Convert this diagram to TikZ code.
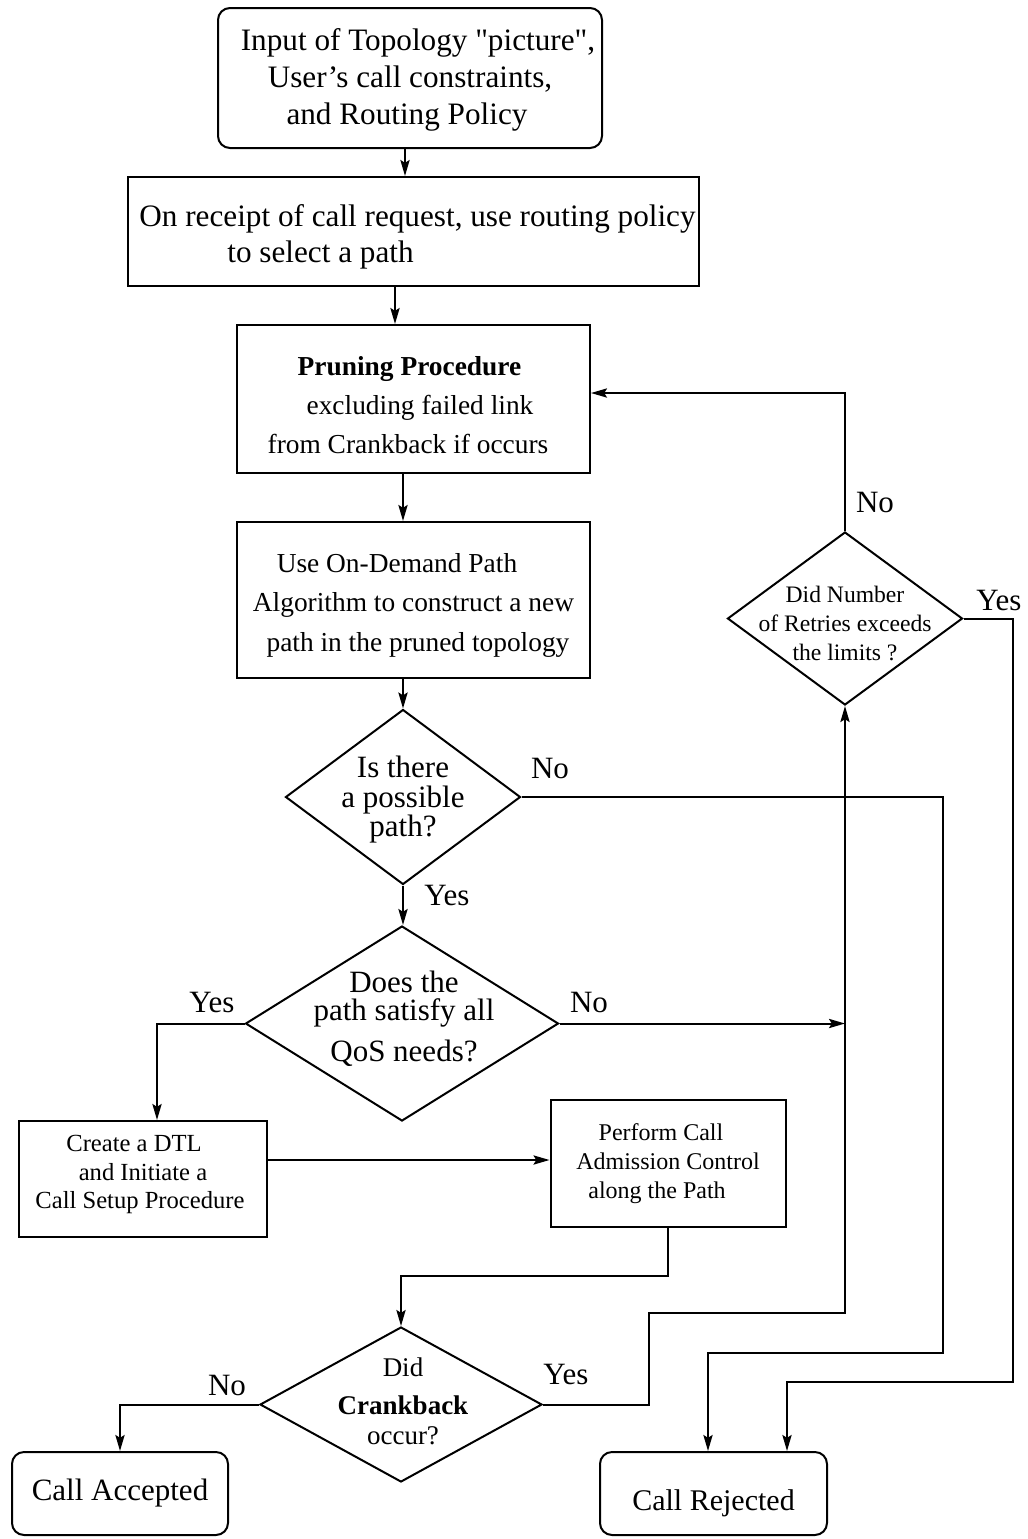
\documentclass[tikz,border=0pt]{standalone}
\usepackage{fontspec}
\setmainfont{Liberation Serif}
\usetikzlibrary{shapes.geometric,arrows.meta}

% a plain typewriter-style double quote, kept out of the TeX quote mapping
\newcommand\straightdq{\XeTeXglyph\XeTeXcharglyph"22\relax}
% raises the top of a first line so the text block sits a little lower
\newcommand\lowerby[1]{\rule{0pt}{#1}}
% deepens a last line so the text block sits a little higher
\newcommand\raiseby[1]{\rule[-#1]{0pt}{#1}}

\begin{document}
\begin{tikzpicture}[x=0.5pt,y=-0.5pt,
  line width=1pt,
  arr/.style={-{Stealth[length=8pt,width=4.6pt,inset=1.4pt]}},
  box/.style={draw, rectangle, inner sep=0pt, align=center},
  rbox/.style={box, rounded corners=6pt},
  decision/.style={draw, diamond, inner sep=0pt},
  qtext/.style={align=center, inner sep=0pt},
  lbl/.style={inner sep=0pt, font=\fontsize{15.5}{18}\selectfont},
]
\useasboundingbox (0,0) rectangle (1028,1539);

% process boxes
\node[rbox, minimum width=192pt, minimum height=70pt,
      font=\fontsize{15.6}{18.5}\selectfont] (input) at (410,78)
  {\lowerby{13pt}\hspace*{8pt}Input of Topology \straightdq picture\straightdq,\\User’s call constraints,\hspace*{9pt}\\and Routing Policy\hspace*{3pt}};

\node[box, align=left, minimum width=285.5pt, minimum height=54.5pt,
      font=\fontsize{15.6}{18}\selectfont] (receipt) at (413.5,231.5)
  {\lowerby{16.8pt}\hspace*{4pt}On receipt of call request, use routing policy\\\hspace*{48pt}to select a path};

\node[box, minimum width=176.5pt, minimum height=74pt,
      font=\fontsize{13.7}{19.5}\selectfont] (prune) at (413.5,399)
  {\lowerby{16pt}\textbf{Pruning Procedure}\hspace*{4pt}\\\hspace*{6.5pt}excluding failed link\\from Crankback if occurs\hspace*{5.5pt}};

\node[box, minimum width=176.5pt, minimum height=78pt,
      font=\fontsize{13.7}{19.75}\selectfont] (use) at (413.5,600)
  {\lowerby{14.5pt}Use On-Demand Path\hspace*{16.5pt}\\Algorithm to construct a new\hspace*{5.5pt}\\\hspace*{4.5pt}path in the pruned topology};

\node[box, minimum width=124pt, minimum height=58pt,
      font=\fontsize{12.3}{14.25}\selectfont] (dtl) at (143,1179)
  {Create a DTL\hspace*{9pt}\\and Initiate a\hspace*{12pt}\\Call Setup Procedure\hspace*{3pt}\raiseby{6.7pt}};

\node[box, minimum width=117.5pt, minimum height=63.5pt,
      font=\fontsize{12}{14.5}\selectfont] (cac) at (668,1163.5)
  {Perform Call\hspace*{7pt}\\Admission Control\hspace*{8pt}\\along the Path\hspace*{11pt}};

\node[rbox, minimum width=108pt, minimum height=41.5pt,
      font=\fontsize{15.5}{18}\selectfont] (accept) at (120,1493.5) {Call Accepted};
\node[rbox, minimum width=113.5pt, minimum height=41.5pt, text height=20pt, text depth=3pt,
      font=\fontsize{15}{18}\selectfont] (reject) at (713.5,1493.5) {Call Rejected};

% decisions
\node[decision, minimum width=117.5pt, minimum height=87.5pt] (possible) at (403,797) {};
\node[qtext, font=\fontsize{15.5}{14.75}\selectfont] (possibleT) at (403,800)
  {Is there\\a possible\\path?};

\node[decision, minimum width=156.5pt, minimum height=97.5pt] (qos) at (402,1023.5) {};
\node[qtext, font=\fontsize{15.5}{14}\selectfont] (qosT) at (404,1019)
  {Does the\\path satisfy all\\[5.5pt]QoS needs?};

\node[decision, minimum width=117.5pt, minimum height=86.5pt] (retry) at (845,618.5) {};
\node[qtext, font=\fontsize{11.8}{14.5}\selectfont] (retryT) at (845,623)
  {Did Number\\of Retries exceeds\\the limits ?};

\node[decision, minimum width=141pt, minimum height=77.5pt] (crank) at (401,1404.5) {};
\node[qtext, font=\fontsize{13.5}{19}\selectfont] (crankT) at (403,1401)
  {Did\\\textbf{Crankback}\\[-4pt]occur?};

% branch labels
\node[lbl] (noPossible) at (550,768) {No};
\node[lbl] (yesPossible) at (447,895) {Yes};
\node[lbl] (yesQos) at (212,1002) {Yes};
\node[lbl] (noQos) at (589,1002) {No};
\node[lbl] (noRetry) at (875,502) {No};
\node[lbl] (yesRetry) at (999,600) {Yes};
\node[lbl] (noCrank) at (227,1385) {No};
\node[lbl] (yesCrank) at (566,1374) {Yes};

% routing points
\coordinate (a1) at (405,0);
\coordinate (a2) at (395,0);
\coordinate (a3) at (157,0);
\coordinate (a4) at (0,1160);
\coordinate (m1) at (401,1276);
\coordinate (k1) at (649,1313);
\coordinate (p1) at (845,393);
\coordinate (n1) at (943,1353);
\coordinate (n2) at (708,1353);
\coordinate (y1) at (1013,1382);
\coordinate (y2) at (787,1382);

% connectors
\draw[arr] (input.south -| a1) -- (receipt.north -| a1);
\draw[arr] (receipt.south -| a2) -- (prune.north -| a2);
\draw[arr] (prune.south -| possible) -- (use.north -| possible);
\draw[arr] (use.south -| possible) -- (possible.north);
\draw[arr] (possible.south) -- (possible.south |- qos.north);
\draw[arr] (qos.west) -| (a3 |- dtl.north);
\draw[arr] (dtl.east |- a4) -- (cac.west |- a4);
\draw[arr] (cac.south) |- (m1) -- (crank.north);
\draw[arr] (crank.west) -| (accept.north);
\draw[arr] (crank.east) -| (k1) -| (retry.south);
\draw[arr] (qos.east) -- (qos.east -| retry.south);
\draw[arr] (retry.north) -- (retry.north |- p1) -- (prune.east |- p1);
\draw[arr] (possible.east) -| (n1) -- (n2) -- (n2 |- reject.north);
\draw[arr] (retry.east) -| (y1) -- (y2) -- (y2 |- reject.north);
\end{tikzpicture}
\end{document}
